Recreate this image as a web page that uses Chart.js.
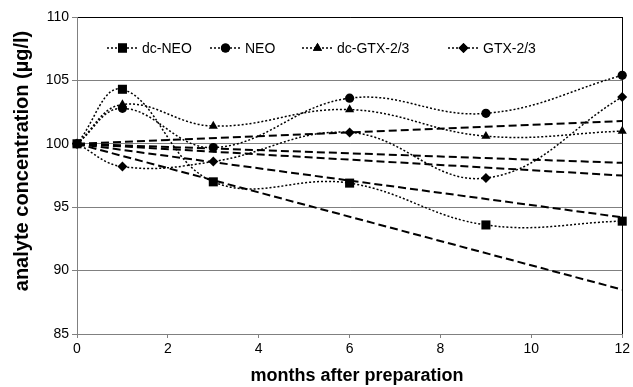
<!DOCTYPE html>
<html>
<head>
<meta charset="utf-8">
<script src="https://cdn.jsdelivr.net/npm/chart.js@4"></script>
<style>
  html, body { margin: 0; padding: 0; background: #fff; }
  #wrap { width: 633px; height: 387px; position: relative; }
</style>
</head>
<body>
<div id="wrap"><canvas id="chart"></canvas></div>
<script>
// months after preparation
const months = [0, 1, 3, 6, 9, 12];

// measured concentrations (µg/l)
const dcNeo = [100, 104.3, 97.0, 96.9, 93.6, 93.9];
const neo = [100, 102.8, 99.7, 103.6, 102.4, 105.4];
const dcGtx = [100, 103.1, 101.4, 102.7, 100.6, 101.0];
const gtx = [100, 98.2, 98.6, 100.9, 97.3, 103.7];

// dashed trend lines, start at month 0 and end at month 12
const trendMonths = [0, 12];
const trendStart = [100, 100, 100, 100, 100];
const trendEnd = [101.8, 98.5, 97.5, 94.2, 88.5];

const seriesNames = ['dc-NEO', 'NEO', 'dc-GTX-2/3', 'GTX-2/3'];
const yTicks = [85, 90, 95, 100, 105, 110];
const xTicks = [0, 2, 4, 6, 8, 10, 12];
const xTitle = 'months after preparation';
const yTitle = 'analyte concentration (µg/l)';

const FONT = "'Liberation Sans', Arial, sans-serif";

function toPoints(xs, ys) {
  return xs.map((x, i) => ({ x: x, y: ys[i] }));
}

const markers = [
  { style: 'rect', radius: 6.4 },
  { style: 'circle', radius: 4.6 },
  { style: 'triangle', radius: 5.3 },
  { style: 'rectRot', radius: 5 }
];

const seriesData = [dcNeo, neo, dcGtx, gtx];

const datasets = seriesData.map((vals, i) => ({
  label: seriesNames[i],
  data: toPoints(months, vals),
  borderColor: '#000',
  backgroundColor: '#000',
  borderWidth: 1.5,
  borderDash: [2, 2],
  tension: 0.4,
  pointStyle: markers[i].style,
  pointRadius: markers[i].radius,
  pointBorderWidth: 0,
  clip: false
}));

trendEnd.forEach((end, i) => {
  datasets.push({
    label: 'trend' + i,
    data: toPoints(trendMonths, [trendStart[i], end]),
    borderColor: '#000',
    borderWidth: 2,
    borderDash: [8, 4],
    pointRadius: 0,
    tension: 0,
    clip: false
  });
});

// legend inside the plot (dotted line + marker + label) and the axis titles
const legendX = [107, 210, 302, 448];
const extras = {
  id: 'extras',
  afterDatasetsDraw(chart) {
    const ctx = chart.ctx;
    const y = 48;
    ctx.save();
    seriesNames.forEach((name, i) => {
      const x0 = legendX[i];
      ctx.strokeStyle = '#000';
      ctx.lineWidth = 1.5;
      ctx.setLineDash([2, 2]);
      ctx.beginPath();
      ctx.moveTo(x0, y);
      ctx.lineTo(x0 + 31, y);
      ctx.stroke();
      ctx.setLineDash([]);
      Chart.helpers.drawPoint(ctx, {
        pointStyle: markers[i].style,
        radius: markers[i].radius,
        rotation: 0,
        borderWidth: 0
      }, x0 + 15.5, y);
      ctx.fillStyle = '#000';
      ctx.fill();
      ctx.font = '14px ' + FONT;
      ctx.textBaseline = 'middle';
      ctx.textAlign = 'left';
      ctx.fillText(name, x0 + 35, y + 1);
    });

    ctx.fillStyle = '#000';
    ctx.textAlign = 'center';
    ctx.textBaseline = 'middle';
    ctx.font = 'bold 18px ' + FONT;
    ctx.fillText(xTitle, 357, 376);

    ctx.translate(22, 161);
    ctx.rotate(-Math.PI / 2);
    ctx.font = 'bold 20px ' + FONT;
    ctx.fillText(yTitle, 0, 0);
    ctx.restore();
  }
};

new Chart(document.getElementById('chart'), {
  type: 'line',
  data: { datasets: datasets },
  plugins: [extras],
  options: {
    responsive: true,
    maintainAspectRatio: false,
    animation: false,
    events: [],
    layout: { padding: { top: 17, right: 9, left: 0, bottom: 0 } },
    plugins: { legend: { display: false }, tooltip: { enabled: false } },
    scales: {
      x: {
        type: 'linear',
        min: 0,
        max: 12,
        afterBuildTicks: s => { s.ticks = xTicks.map(v => ({ value: v })); },
        afterFit: s => { s.height = 53; },
        ticks: { color: '#000', font: { family: FONT, size: 14 }, padding: 3, maxRotation: 0 },
        grid: {
          color: c => (c.tick && c.tick.value === 12 ? '#000' : 'rgba(0,0,0,0)'),
          tickColor: '#808080',
          tickLength: 4,
          lineWidth: 1
        },
        border: { color: '#808080', width: 1 },
        title: { display: false }
      },
      y: {
        min: 85,
        max: 110,
        afterBuildTicks: s => { s.ticks = yTicks.map(v => ({ value: v })); },
        afterFit: s => { s.width = 77; },
        ticks: { color: '#000', font: { family: FONT, size: 14 }, padding: 3 },
        grid: {
          color: c => (c.tick && c.tick.value === 110 ? '#000' : '#808080'),
          tickColor: '#808080',
          tickLength: 5,
          lineWidth: 1
        },
        border: { color: '#808080', width: 1 },
        title: { display: false }
      }
    }
  }
});
</script>
</body>
</html>
